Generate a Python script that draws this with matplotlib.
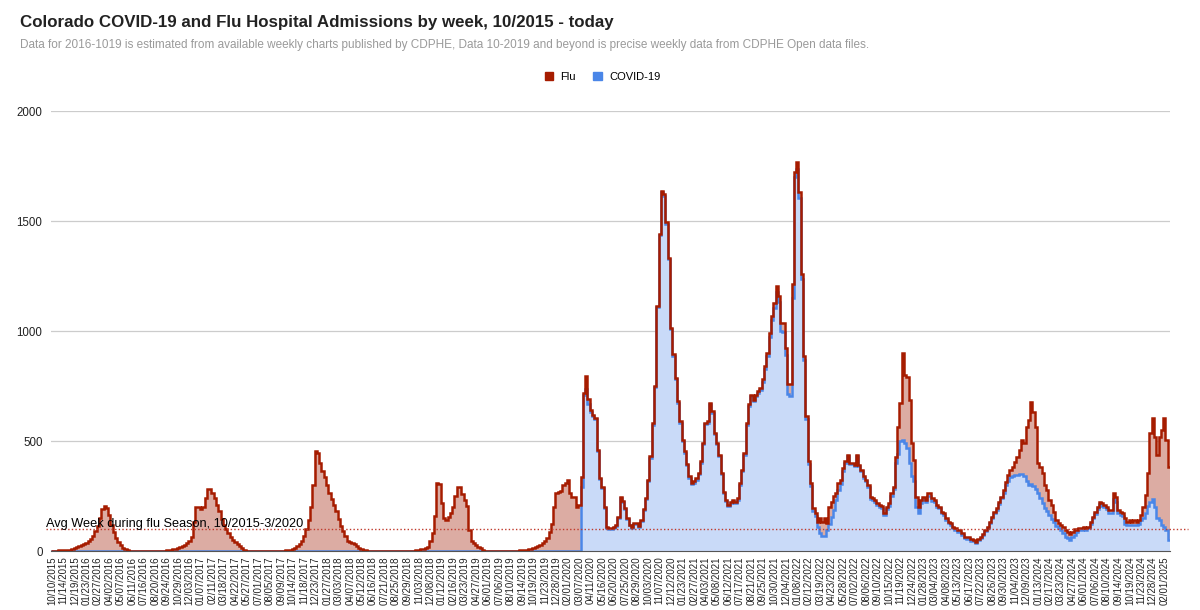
import numpy as np
import pandas as pd
import matplotlib
matplotlib.use("Agg")
import matplotlib.pyplot as plt
from matplotlib.patches import Patch

plt.rcParams["font.family"] = ["Liberation Sans", "DejaVu Sans"]

# weekly categories (one week, 01/02/2021, is missing in the source sheet)
week_dates = list(pd.date_range("2015-10-10", "2020-12-26", freq="7D")) + \
             list(pd.date_range("2021-01-09", "2025-02-15", freq="7D"))
tick_labels = [d.strftime("%m/%d/%Y") for d in week_dates]

# top of the stacked area (COVID-19 + Flu)
total = [
    # 2015-16 season
    2, 2, 2, 3, 3, 3, 4, 5, 6, 8, 12, 16, 22, 28, 33, 38, 44, 55, 70, 90,
    115, 150, 190, 205, 195, 165, 120, 88, 58, 42, 27, 15, 8, 3, 0,
    0, 0, 0, 0, 0, 0, 0, 0, 0, 0, 0, 0, 0,
    # 2016-17 season
    1, 2, 3, 4, 6, 8, 10, 13, 17, 22, 28, 35, 45, 65, 130, 200, 198, 192, 200, 240,
    280, 282, 265, 240, 210, 180, 145, 120, 100, 82, 65, 48, 40, 33, 25, 15, 6, 2, 0,
    0, 0, 0, 0, 0, 0, 0, 0, 0, 0, 0, 0, 0,
    # 2017-18 season
    1, 2, 3, 4, 6, 10, 15, 22, 32, 45, 70, 100, 140, 200, 300, 455, 445, 400, 365, 335,
    300, 265, 235, 210, 180, 145, 115, 90, 70, 45, 40, 38, 33, 25, 15, 10, 6, 3, 1,
    0, 0, 0, 0, 0, 0, 0, 0, 0, 0, 0, 0, 0, 0, 0, 0,
    # 2018-19 season
    1, 1, 2, 2, 3,
    5, 7, 9, 12, 20, 45, 80, 160, 310, 305, 220, 150, 140, 155, 175, 200, 250, 290, 292, 260,
    230, 205, 95, 45, 35, 27, 20, 12, 5, 2, 0,
    0, 0, 0, 0, 0, 0, 0, 0, 0, 0,
    # 2019-20 season
    1, 1, 2, 3, 4,
    5, 6, 8, 10, 14, 18, 22, 28, 35, 45, 60, 85, 125, 200, 265, 270, 275, 300, 307, 323,
    262, 246, 246, 201, 209,
    # 2020 onward
    338, 718, 795, 690, 641, 620, 604, 459, 331, 292,
    200, 110, 104, 104, 110, 118, 155, 246, 227, 195,
    150, 120, 110, 127, 127, 115, 140, 190, 240, 325,
    430, 580, 750, 1114, 1441, 1638, 1623,
    1494, 1334, 1015, 894, 787, 681, 590, 506, 453, 396,
    339, 309, 316, 331, 354, 407, 491, 582, 590, 673,
    635, 536, 491, 438, 354, 270, 232, 210, 225, 232,
    225, 240, 309, 369, 445, 582, 666, 711, 688, 711,
    726, 742, 780, 840, 901, 992, 1068, 1129, 1205, 1160,
    1038, 1038, 924, 757, 757, 1213, 1722, 1767, 1631, 1258,
    886, 612, 407, 309, 195, 172, 134, 149, 134, 149,
    126, 202, 225, 248, 263, 309, 324, 377, 407, 438,
    400, 400, 392, 438, 392, 369, 339, 324, 301,
    247, 240, 230, 217, 209, 205, 171, 202, 217, 262,
    292, 429, 565, 671, 898, 800, 792, 686, 489, 414,
    247, 202, 232, 247, 232, 262, 265, 239, 232, 209,
    202, 179, 171, 150, 133, 126, 111, 103, 95, 95,
    80, 65, 62, 65, 53, 50, 42, 53, 62, 77,
    95, 111, 133, 156, 179, 194, 224, 247, 277, 315,
    345, 368, 383, 406, 429, 459, 505, 489, 565, 595,
    679, 633, 565, 398, 383, 353, 300, 277, 232, 209,
    179, 141, 126, 118, 111, 95, 88, 77, 88, 98,
    95, 103, 103, 111, 103, 111, 133, 156, 179, 202,
    224, 217, 209, 202, 186, 186, 262, 247, 186, 179,
    171, 148, 133, 141, 133, 141, 133, 141, 164, 202,
    255, 353, 535, 603, 520, 436, 520, 550, 603, 505,
    383,
]

# COVID-19 (bottom layer); no data before 03/2020
covid = [0] * 231 + [
    292, 709, 735, 670, 632, 612, 598, 454, 327, 288,
    196, 106, 100, 100, 106, 114, 150, 240, 222, 190,
    146, 116, 106, 122, 122, 111, 135, 185, 235, 320,
    424, 574, 744, 1108, 1435, 1630, 1615,
    1488, 1328, 1009, 888, 781, 675, 584, 500, 447, 390,
    333, 303, 310, 325, 348, 401, 485, 576, 584, 667,
    629, 530, 485, 432, 348, 264, 226, 204, 219, 226,
    219, 234, 302, 362, 438, 575, 659, 704, 680, 703,
    717, 732, 768, 826, 885, 975, 1048, 1105, 1178, 1130,
    1000, 995, 890, 712, 705, 1150, 1700, 1735, 1605, 1238,
    870, 598, 395, 296, 180, 160, 110, 82, 66, 66,
    95, 125, 155, 185, 230, 278, 305, 365, 400, 430,
    395, 395, 386, 430, 386, 362, 332, 316, 293,
    238, 232, 222, 209, 200, 195, 162, 192, 205, 250,
    280, 400, 440, 500, 505, 490, 470, 400, 340, 320,
    200, 175, 220, 235, 222, 250, 250, 228, 222, 200,
    194, 172, 164, 143, 126, 119, 104, 96, 88, 88,
    73, 58, 55, 58, 47, 44, 37, 48, 57, 72,
    90, 105, 127, 150, 172, 186, 215, 240, 265, 300,
    320, 335, 340, 345, 345, 350, 350, 340, 320, 300,
    305, 295, 280, 265, 240, 220, 195, 180, 165, 145,
    130, 115, 105, 95, 80, 65, 60, 50, 65, 75,
    85, 95, 97, 104, 97, 104, 125, 148, 170, 192,
    212, 205, 198, 190, 175, 175, 235, 225, 172, 165,
    158, 125, 118, 120, 118, 120, 118, 122, 140, 150,
    175, 205, 225, 235, 200, 150, 140, 120, 110, 95,
    50,
]

avg_flu_week = 100

flu_line = "#a61c00"
flu_fill = "#dcaca3"
covid_line = "#4a86e8"
covid_fill = "#c9daf8"

n = len(total)
edges = np.arange(n + 1) - 0.5

fig = plt.figure(figsize=(12, 6.1), dpi=100)
ax = fig.add_axes([50.85 / 1200, 1 - 551 / 610, (1170 - 50.85) / 1200, 440 / 610])

ax.stairs(covid, edges, baseline=0, fill=True, color=covid_fill, lw=0, zorder=2)
ax.stairs(total, edges, baseline=covid, fill=True, color=flu_fill, lw=0, zorder=2)
ax.stairs(covid, edges, baseline=None, color=covid_line, lw=1.8, zorder=3)
ax.stairs(total, edges, baseline=None, color=flu_line, lw=1.8, zorder=4)

ax.axhline(avg_flu_week, xmin=-0.004, xmax=1.016, color="#c0392b",
           ls=(0, (1, 1.6)), lw=1, clip_on=False, zorder=5)
fig.text(46 / 1200, 1 - 527 / 610, "Avg Week during flu Season, 10/2015-3/2020",
         fontsize=9.2, color="#000000", va="baseline", ha="left")

ax.set_xlim(-0.5, n - 0.5)
ax.set_ylim(0, 2000)
ax.set_yticks([0, 500, 1000, 1500, 2000])
ax.set_xticks(range(0, n, 5))
ax.set_xticklabels(tick_labels[::5], rotation=90, fontsize=7.0, color="#222222")
ax.tick_params(axis="both", length=0)
ax.tick_params(axis="x", pad=4)
ax.tick_params(axis="y", pad=6, labelsize=8.3, labelcolor="#222222")
ax.grid(axis="y", color="#cccccc", lw=0.9, zorder=0)
ax.set_axisbelow(True)
for s in ["top", "right", "left"]:
    ax.spines[s].set_visible(False)
ax.spines["bottom"].set_color("#555555")
ax.spines["bottom"].set_zorder(3)

fig.text(20 / 1200, 1 - 23 / 610,
         "Colorado COVID-19 and Flu Hospital Admissions by week, 10/2015 - today",
         fontsize=12.2, fontweight="bold", color="#222222", va="center", ha="left")
fig.text(20 / 1200, 1 - 45 / 610,
         "Data for 2016-1019 is estimated from available weekly charts published by CDPHE, "
         "Data 10-2019 and beyond is precise weekly data from CDPHE Open data files.",
         fontsize=8.5, color="#9a9a9a", va="center", ha="left")

handles = [Patch(color=flu_line, label="Flu"), Patch(color=covid_line, label="COVID-19")]
fig.legend(handles=handles, loc="center", bbox_to_anchor=(0.502, 1 - 77 / 610), ncol=2,
           frameon=False, fontsize=8.0, handlelength=0.8, handleheight=0.8,
           handletextpad=0.6, columnspacing=1.6)

fig.savefig("out.png", dpi=100)
